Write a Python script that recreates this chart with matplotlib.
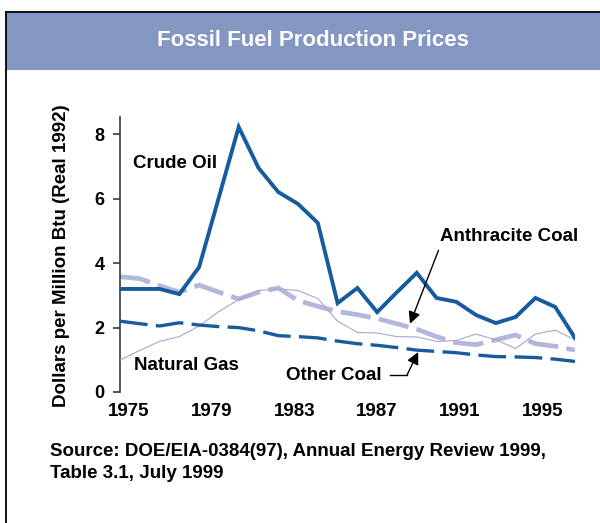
import matplotlib
matplotlib.use("Agg")
import matplotlib.pyplot as plt
from matplotlib.patches import Rectangle
from matplotlib.lines import Line2D
import numpy as np

plt.rcParams['font.family'] = ['Liberation Sans', 'DejaVu Sans']
plt.rcParams['font.weight'] = 'bold'
plt.rcParams['lines.scale_dashes'] = False

years = list(range(1975, 1999))
crude_oil = [3.20, 3.20, 3.20, 3.04, 3.88, 6.05, 8.23, 6.96, 6.21, 5.84, 5.25, 2.76,
             3.23, 2.48, 3.10, 3.70, 2.92, 2.80, 2.39, 2.14, 2.33, 2.92, 2.64, 1.68]
anthracite = [3.58, 3.52, 3.30, 3.10, 3.32, 3.10, 2.89, 3.10, 3.23, 2.84, 2.66, 2.50,
              2.40, 2.28, 2.12, 1.95, 1.72, 1.53, 1.47, 1.62, 1.77, 1.50, 1.42, 1.30]
natural_gas = [0.99, 1.29, 1.57, 1.72, 2.05, 2.50, 2.87, 3.15, 3.20, 3.15, 2.90, 2.20,
               1.85, 1.83, 1.72, 1.71, 1.57, 1.60, 1.80, 1.62, 1.35, 1.80, 1.92, 1.62]
other_coal = [2.20, 2.12, 2.05, 2.15, 2.08, 2.03, 2.00, 1.90, 1.75, 1.72, 1.68, 1.58,
              1.50, 1.45, 1.38, 1.30, 1.26, 1.22, 1.15, 1.10, 1.09, 1.07, 1.02, 0.95]
x_tick_labels = ['1975', '1979', '1983', '1987', '1991', '1995']
y_ticks = [0, 2, 4, 6, 8]

DARK = '#175b9e'
LIGHT = '#b3b7db'
THIN = '#a3a8d4'
BAND = '#8496c2'
FS = 13.5

W, H = 600, 523
fig = plt.figure(figsize=(W / 100, H / 100), dpi=100)

def fx(px):
    return px / W

def fy(py):
    return 1 - py / H

# Header band and frame
fig.patches.append(Rectangle((fx(6), fy(70)), 1 - fx(6), fy(12) - fy(70),
                             transform=fig.transFigure, facecolor=BAND,
                             edgecolor='none', zorder=0))
fig.lines.append(Line2D([fx(6), fx(6)], [0, fy(12)], transform=fig.transFigure,
                        color='black', lw=1.3))
fig.lines.append(Line2D([fx(6), 1], [fy(12), fy(12)], transform=fig.transFigure,
                        color='black', lw=1.3))
fig.text(fx(313), fy(40), 'Fossil Fuel Production Prices', color='white',
         ha='center', va='center', fontsize=16, fontweight='heavy',
         family=['Liberation Sans'])

# Axes
ax = fig.add_axes([fx(120), fy(392), fx(575) - fx(120), fy(117) - fy(392)])
ax.set_xlim(1975, 1998)
ax.set_ylim(0, 8.54)
ax.patch.set_alpha(0)

ax.plot(years, natural_gas, color=THIN, lw=0.8, zorder=3)
ax.plot(years, anthracite, color=LIGHT, lw=3.4, dashes=(22, 6), zorder=2,
        dash_capstyle='butt')
ax.plot(years, other_coal, color=DARK, lw=2.4, dashes=(20, 6), zorder=4,
        dash_capstyle='butt')
ax.plot(years, crude_oil, color=DARK, lw=2.8, zorder=5, solid_joinstyle='miter')

for s in ['top', 'right', 'bottom']:
    ax.spines[s].set_visible(False)
ax.spines['left'].set_color('#3a3a3a')
ax.spines['left'].set_linewidth(1.2)
ax.set_yticks(y_ticks)
ax.set_yticklabels([str(v) for v in y_ticks], fontsize=13, fontweight='bold')
ax.tick_params(axis='y', direction='out', length=5, width=1.2, color='#3a3a3a', pad=6)
x_tick_pos = np.linspace(1975.45, 1996.35, len(x_tick_labels))
ax.set_xticks(x_tick_pos)
ax.set_xticklabels(x_tick_labels, fontsize=FS, fontweight='bold')
ax.tick_params(axis='x', length=0, pad=8)

fig.text(fx(62), fy(256), 'Dollars per Million Btu (Real 1992)', rotation=90,
         ha='center', va='center', fontsize=FS, fontweight='bold')

# Series labels
ax.text(1977.8, 7.11, 'Crude Oil', ha='center', va='center', fontsize=FS, fontweight='bold')
ax.text(1978.35, 0.81, 'Natural Gas', ha='center', va='center', fontsize=FS, fontweight='bold')
ax.text(1985.8, 0.50, 'Other Coal', ha='center', va='center', fontsize=FS, fontweight='bold')
ax.text(1994.67, 4.84, 'Anthracite Coal', ha='center', va='center', fontsize=FS, fontweight='bold')

# Arrows
ax.annotate('', xy=(1989.66, 2.12), xytext=(1991.1, 4.4),
            arrowprops=dict(arrowstyle='-|>', color='black', lw=1.0,
                            mutation_scale=18, shrinkA=0, shrinkB=0), zorder=6)
ax.plot([1988.65, 1989.51], [0.53, 0.53], color='black', lw=1.0, zorder=6)
ax.annotate('', xy=(1990.07, 1.24), xytext=(1989.51, 0.53),
            arrowprops=dict(arrowstyle='-|>', color='black', lw=1.0,
                            mutation_scale=18, shrinkA=0, shrinkB=0), zorder=6)

fig.text(fx(50), fy(452), 'Source: DOE/EIA-0384(97), Annual Energy Review 1999,',
         ha='left', va='center', fontsize=FS, fontweight='bold')
fig.text(fx(50), fy(474), 'Table 3.1, July 1999',
         ha='left', va='center', fontsize=FS, fontweight='bold')

fig.savefig('out.png', dpi=100)
